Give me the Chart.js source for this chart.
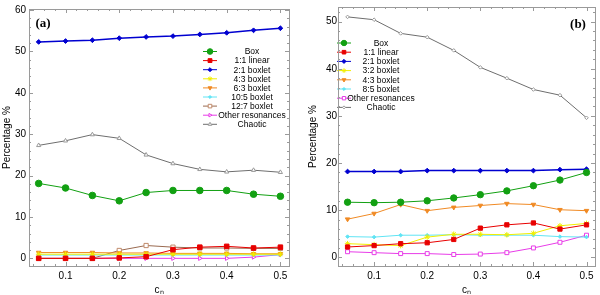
<!DOCTYPE html>
<html>
<head>
<meta charset="utf-8">
<script src="https://cdn.jsdelivr.net/npm/chart.js"></script>
<style>
  body { margin: 0; background: #fff; }
  .panel { position: absolute; top: 0; width: 300px; height: 295px; }
  #pa { left: 0; }
  #pb { left: 300px; }
</style>
</head>
<body>
<div class="panel" id="pa"><canvas id="chartA" width="300" height="295"></canvas></div>
<div class="panel" id="pb"><canvas id="chartB" width="300" height="295"></canvas></div>
<script>
// values
const cn = [0.05, 0.1, 0.15, 0.2, 0.25, 0.3, 0.35, 0.4, 0.45, 0.5];

// panel (a)
const boxA      = [18.1, 17.0, 15.2, 13.9, 15.9, 16.4, 16.4, 16.4, 15.5, 15.0];
const linear11A = [0, 0, 0, 0.1, 0.4, 2.1, 2.7, 2.9, 2.5, 2.7];
const boxlet21A = [52.3, 52.5, 52.7, 53.2, 53.5, 53.7, 54.1, 54.5, 55.1, 55.6];
const boxlet43A = [1.0, 1.0, 1.0, 1.0, 1.0, 1.0, 1.0, 1.0, 1.0, 1.0];
const boxlet63A = [1.4, 1.4, 1.4, 1.3, 1.3, 1.2, 1.2, 1.2, 1.1, 1.1];
const boxlet105A = [0.8, 0.8, 0.8, 0.8, 0.8, 0.8, 0.8, 0.8, 0.8, 0.8];
const boxlet127A = [0, 0, 0, 1.9, 3.1, 2.7, 2.5, 2.5, 2.4, 2.4];
const otherA    = [0, 0, 0, 0, 0, 0, 0, 0, 0.3, 0.9];
const chaoticA  = [27.3, 28.4, 29.9, 29.0, 25.0, 22.9, 21.5, 20.9, 21.3, 20.8];

// panel (b)
const boxB      = [11.7, 11.6, 11.7, 12.0, 12.6, 13.3, 14.1, 15.2, 16.4, 18.0];
const linear11B = [2.2, 2.5, 2.9, 3.1, 3.8, 6.2, 6.9, 7.3, 6.0, 6.9];
const boxlet21B = [18.2, 18.2, 18.2, 18.4, 18.4, 18.4, 18.4, 18.4, 18.6, 18.7];
const boxlet32B = [2.9, 2.7, 2.5, 4.3, 4.9, 4.9, 4.8, 5.1, 6.7, 7.2];
const boxlet43B = [8.1, 9.3, 11.2, 9.9, 10.6, 11.0, 11.4, 11.2, 10.1, 9.9];
const boxlet85B = [4.4, 4.3, 4.7, 4.7, 4.8, 4.7, 4.7, 4.7, 4.4, 4.3];
const otherB    = [1.2, 1.0, 0.8, 0.8, 0.6, 0.7, 1.0, 2.0, 3.2, 4.7];
const chaoticB  = [51.0, 50.4, 47.5, 46.7, 43.9, 40.3, 38.0, 35.6, 34.4, 29.6];

// ticks
const xTicks = [0.1, 0.2, 0.3, 0.4, 0.5];
const yTicksA = [0, 10, 20, 30, 40, 50, 60];
const yTicksB = [0, 10, 20, 30, 40, 50];

const FONT = "'Liberation Sans', Arial, sans-serif";

function series(label, data, color, style) {
  return Object.assign({
    label: label,
    data: data.map((v, i) => ({ x: cn[i], y: v })),
    borderColor: color,
    backgroundColor: color,
    pointBorderColor: color,
    pointBackgroundColor: color,
    borderWidth: 1,
    pointBorderWidth: 1,
    pointRadius: 3,
    pointStyle: 'circle',
    pointRotation: 0,
    tension: 0
  }, style || {});
}

// legend drawn inside the plot: short line + marker, text centred
const customLegend = {
  id: 'customLegend',
  afterDraw(chart, args, opts) {
    const ctx = chart.ctx;
    ctx.save();
    ctx.font = '8.5px ' + FONT;
    ctx.textAlign = 'center';
    ctx.textBaseline = 'middle';
    chart.data.datasets.forEach((ds, i) => {
      const y = opts.y0 + i * opts.dy;
      ctx.strokeStyle = ds.borderColor;
      ctx.lineWidth = 1;
      ctx.beginPath();
      ctx.moveTo(opts.mx - 7, y);
      ctx.lineTo(opts.mx + 7, y);
      ctx.stroke();
      ctx.fillStyle = ds.pointBackgroundColor;
      ctx.strokeStyle = ds.pointBorderColor;
      Chart.helpers.drawPoint(ctx, {
        pointStyle: ds.pointStyle,
        rotation: ds.pointRotation,
        radius: ds.pointRadius * 0.85,
        borderWidth: ds.pointBorderWidth
      }, opts.mx, y);
      ctx.fillStyle = '#000';
      ctx.fillText(ds.label, opts.tx, y + 0.5);
    });
    ctx.restore();
  }
};

// mathematica style frame with inward ticks on every side
const frame = {
  id: 'frame',
  afterDraw(chart, args, opts) {
    const { ctx, chartArea: a, scales } = chart;
    const xs = scales.x, ys = scales.y;
    ctx.save();
    ctx.strokeStyle = '#9a9a9a';
    ctx.lineWidth = 1;
    ctx.strokeRect(a.left + 0.5, a.top + 0.5, a.right - a.left, a.bottom - a.top);
    ctx.beginPath();
    for (let v = 0.02; v < xs.max; v += 0.02) {
      if (v < xs.min) continue;
      const major = Math.abs(v * 10 - Math.round(v * 10)) < 1e-6;
      const len = major ? 4 : 2;
      const px = Math.round(xs.getPixelForValue(v)) + 0.5;
      ctx.moveTo(px, a.bottom); ctx.lineTo(px, a.bottom - len);
      ctx.moveTo(px, a.top); ctx.lineTo(px, a.top + len);
    }
    for (let v = -2; v < ys.max; v += 2) {
      if (v < ys.min) continue;
      const len = v % 10 === 0 ? 4 : 2;
      const py = Math.round(ys.getPixelForValue(v)) + 0.5;
      ctx.moveTo(a.left, py); ctx.lineTo(a.left + len, py);
      ctx.moveTo(a.right, py); ctx.lineTo(a.right - len, py);
    }
    ctx.stroke();
    ctx.fillStyle = '#000';
    ctx.font = 'bold 13px "Liberation Serif", serif';
    ctx.textAlign = 'center';
    ctx.textBaseline = 'middle';
    ctx.fillText(opts.tag, opts.tagX, opts.tagY);
    ctx.restore();
  }
};

function makeChart(id, datasets, yTicks, yMin, yMax, yWidth, labelPad, padRight, legend, tag) {
  return new Chart(document.getElementById(id), {
    type: 'line',
    data: { datasets: datasets },
    options: {
      responsive: false,
      animation: false,
      layout: { padding: { top: 5, right: padRight, left: 0, bottom: 0 } },
      plugins: {
        legend: { display: false },
        tooltip: { enabled: false },
        customLegend: legend,
        frame: tag
      },
      scales: {
        x: {
          type: 'linear',
          min: 0.032, max: 0.516,
          afterBuildTicks: s => { s.ticks = xTicks.map(v => ({ value: v })); },
          afterFit: s => { s.height = 29; },
          grid: { display: false, drawTicks: false },
          border: { display: false },
          ticks: { color: '#000', padding: 4, font: { family: FONT, size: 10 }, callback: v => String(v) },
          title: { display: true, text: 'cₙ', color: '#000', padding: 0, font: { family: FONT, size: 10, lineHeight: 1 } }
        },
        y: {
          min: yMin, max: yMax,
          afterBuildTicks: s => { s.ticks = yTicks.map(v => ({ value: v })); },
          afterFit: s => { s.width = yWidth; },
          grid: { display: false, drawTicks: false },
          border: { display: false },
          ticks: { color: '#000', padding: labelPad, font: { family: FONT, size: 10 } },
          title: { display: true, text: 'Percentage %', color: '#000', padding: { top: yWidth > 30 ? 8 : 2 }, font: { family: FONT, size: 10, lineHeight: 1 } }
        }
      }
    },
    plugins: [customLegend, frame]
  });
}

const green = '#12a012', red = '#e80000', blue = '#0000d0', yellow = '#f2ee00',
      orange = '#f08a24', cyan = '#60e4f4', brown = '#9a6a50', magenta = '#e83ce8', gray = '#6e6e6e';

const dsA = [
  series('Box', boxA, green, { pointRadius: 3.3 }),
  series('1:1 linear', linear11A, red, { pointStyle: 'rect', pointRadius: 3.2 }),
  series('2:1 boxlet', boxlet21A, blue, { pointStyle: 'rectRot', pointRadius: 2.4, borderWidth: 1.5 }),
  series('4:3 boxlet', boxlet43A, yellow, { pointStyle: 'star', pointRadius: 2.8 }),
  series('6:3 boxlet', boxlet63A, orange, { pointStyle: 'triangle', pointRotation: 180, pointRadius: 2.6 }),
  series('10:5 boxlet', boxlet105A, cyan, { pointStyle: 'rectRot', pointRadius: 1.8 }),
  series('12:7 boxlet', boxlet127A, brown, { pointStyle: 'rect', pointRadius: 3, pointBackgroundColor: '#fff', pointBorderColor: '#c08a6a' }),
  series('Other resonances', otherA, magenta, { pointStyle: 'triangle', pointRotation: 90, pointRadius: 2.4, pointBackgroundColor: '#fff' }),
  series('Chaotic', chaoticA, gray, { pointStyle: 'triangle', pointRadius: 2.4, pointBackgroundColor: '#fff', pointBorderColor: '#999' })
];

const dsB = [
  series('Box', boxB, green, { pointRadius: 3.2 }),
  series('1:1 linear', linear11B, red, { pointStyle: 'rect', pointRadius: 3 }),
  series('2:1 boxlet', boxlet21B, blue, { pointStyle: 'rectRot', pointRadius: 2.4, borderWidth: 1.5 }),
  series('3:2 boxlet', boxlet32B, yellow, { pointStyle: 'star', pointRadius: 2.8 }),
  series('4:3 boxlet', boxlet43B, orange, { pointStyle: 'triangle', pointRotation: 180, pointRadius: 2.6 }),
  series('8:5 boxlet', boxlet85B, cyan, { pointStyle: 'rectRot', pointRadius: 1.8 }),
  series('Other resonances', otherB, magenta, { pointStyle: 'rect', pointRadius: 2.8, pointBackgroundColor: '#fff' }),
  series('Chaotic', chaoticB, gray, { pointStyle: 'rectRot', pointRadius: 1.8, pointBackgroundColor: '#fff', pointBorderColor: '#999' })
];

makeChart('chartA', dsA, yTicksA, -1.85, 60.25, 29, 3, 11,
  { mx: 210, tx: 252, y0: 51.5, dy: 9.1 },
  { tag: '(a)', tagX: 43, tagY: 24 });

makeChart('chartB', dsB, yTicksB, -1.83, 53.1, 38, 1, 2,
  { mx: 44, tx: 81, y0: 43, dy: 9.2 },
  { tag: '(b)', tagX: 278, tagY: 25 });
</script>
</body>
</html>
